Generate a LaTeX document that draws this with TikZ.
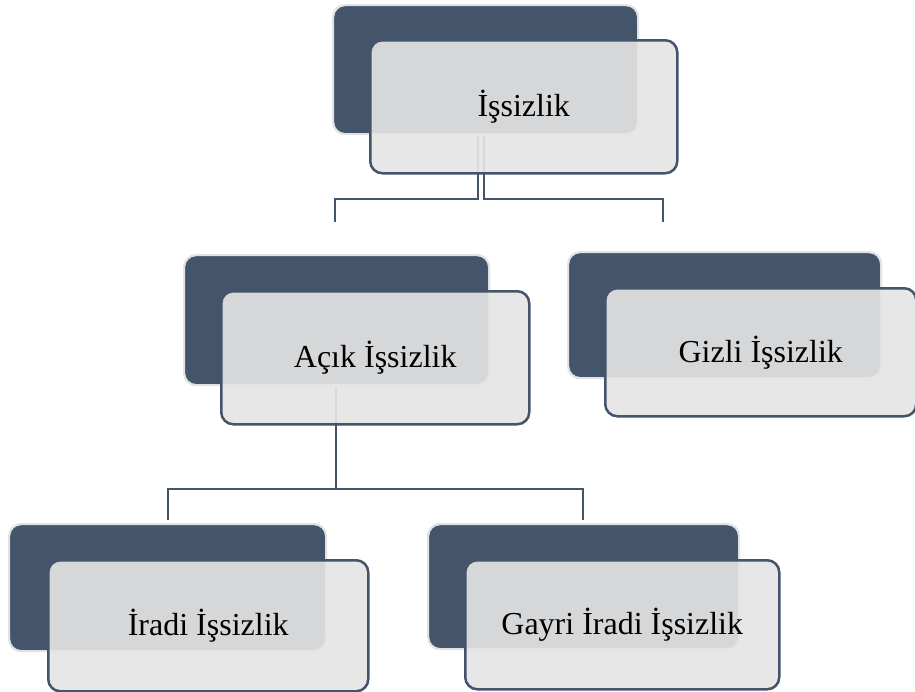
\documentclass[tikz,border=0pt]{standalone}
\usepackage{fontspec}
\setmainfont{Liberation Serif}
\definecolor{slate}{HTML}{44546A}
\definecolor{paleg}{HTML}{E5E5E5}
\definecolor{rimg}{HTML}{E2E2E2}
\begin{document}
\begin{tikzpicture}[x=1pt,y=-1pt,
  darkbox/.style={rounded corners=12pt, fill=slate, draw=rimg, line width=2.2pt, anchor=north west, inner sep=0pt},
  lightbox/.style={rounded corners=12pt, fill=paleg, fill opacity=0.91, text opacity=1, draw=slate, line width=2.5pt, anchor=north west, inner sep=0pt, font=\fontsize{32}{38}\selectfont, text=black},
  conn/.style={draw=slate, line width=2.8pt}]
\useasboundingbox (0,0) rectangle (915,691);

% connector anchor coordinates
\coordinate (tl) at (478,136);
\coordinate (tr) at (484,136);
\coordinate (endL) at (335,222);
\coordinate (endR) at (663,222);
\coordinate (ma) at (336,387);
\coordinate (endIr) at (168,520);
\coordinate (endGa) at (583,520);

% connectors (behind boxes)
\draw[conn] (tl) |- (400,199) -| (endL);
\draw[conn] (tr) |- (600,199) -| (endR);
\draw[conn] (ma) -- (336,489);
\draw[conn] (endIr) |- (336,489) -| (endGa);

% dark boxes
\node[darkbox, minimum width=305pt, minimum height=129pt] (d1) at (332,4) {};
\node[darkbox, minimum width=305pt, minimum height=130pt] (d2) at (183,254) {};
\node[darkbox, minimum width=313pt, minimum height=126pt] (d3) at (567,251) {};
\node[darkbox, minimum width=317pt, minimum height=127pt] (d4) at (8,523) {};
\node[darkbox, minimum width=311pt, minimum height=125pt] (d5) at (427,523) {};

% light boxes with text
\node[lightbox, minimum width=307pt, minimum height=133pt] (l1) at (369,39) {İşsizlik};
\node[lightbox, minimum width=308pt, minimum height=133pt] (l2) at (220,290) {Açık İşsizlik};
\node[lightbox, minimum width=311pt, minimum height=128pt] (l3) at (604,287) {Gizli İşsizlik};
\node[lightbox, minimum width=320pt, minimum height=131pt] (l4) at (47,559) {İradi İşsizlik};
\node[lightbox, minimum width=314pt, minimum height=129pt] (l5) at (464,559) {Gayri İradi İşsizlik};
\end{tikzpicture}
\end{document}
